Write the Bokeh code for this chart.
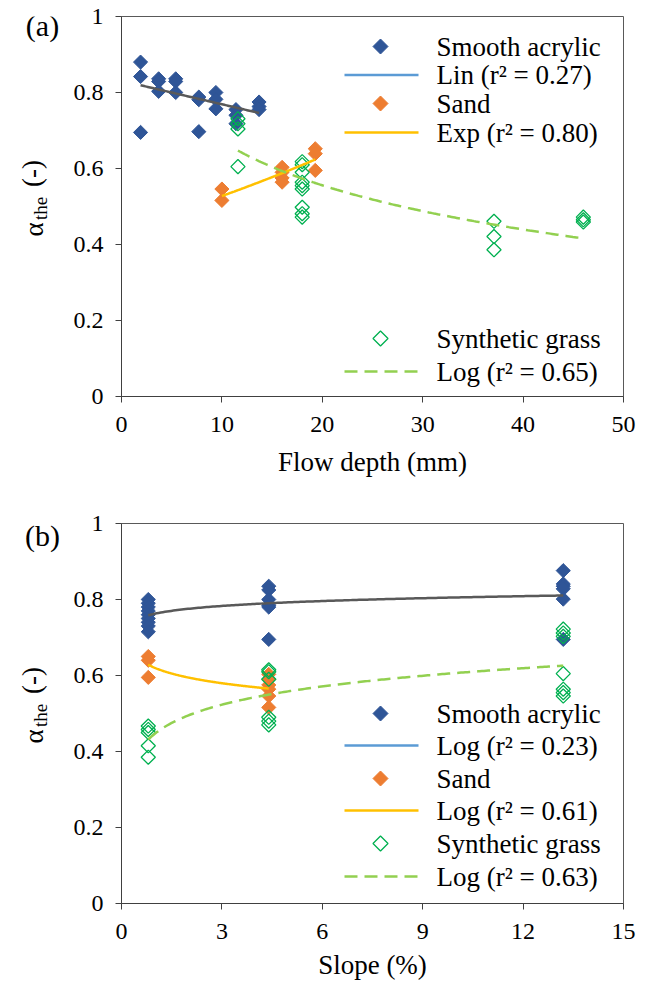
import numpy as np
from bokeh.plotting import figure
from bokeh.layouts import column, row
from bokeh.models import Range1d, FixedTicker, NumeralTickFormatter, Label, PolyAnnotation, Arrow
from bokeh.embed import file_html
from bokeh.resources import INLINE

SERIF = "Liberation Serif"

# ---------------- data: panel (a) flow depth (mm) ----------------
acrylic_depth = [1.9, 1.9, 1.9, 3.7, 3.7, 3.7, 5.4, 5.4, 5.4, 7.7, 7.7, 7.7,
                 9.4, 9.4, 9.4, 11.4, 11.4, 11.4, 13.7, 13.7, 13.7]
acrylic_alpha_a = [0.880, 0.842, 0.695, 0.836, 0.829, 0.803, 0.836, 0.829, 0.800,
                   0.788, 0.781, 0.697, 0.800, 0.782, 0.757, 0.755, 0.740, 0.718,
                   0.775, 0.763, 0.755]
sand_depth = [10.0, 10.0, 16.0, 16.0, 16.0, 16.0, 19.3, 19.3, 19.3]
sand_alpha_a = [0.546, 0.516, 0.603, 0.590, 0.575, 0.564, 0.652, 0.639, 0.595]
grass_depth = [11.6, 11.6, 11.6, 11.6, 18.0, 18.0, 18.0, 18.0, 18.0, 18.0, 18.0,
               18.0, 18.0, 37.1, 37.1, 37.1, 46.0, 46.0, 46.0]
grass_alpha_a = [0.731, 0.718, 0.704, 0.605, 0.618, 0.610, 0.590, 0.564, 0.555,
                 0.546, 0.498, 0.481, 0.472, 0.461, 0.421, 0.386, 0.472, 0.465, 0.459]

# ---------------- data: panel (b) slope (%) ----------------
acrylic_slope = [0.8, 0.8, 0.8, 0.8, 0.8, 0.8, 0.8, 0.8, 0.8,
                 4.4, 4.4, 4.4, 4.4, 4.4, 4.4, 13.2, 13.2, 13.2, 13.2, 13.2, 13.2]
acrylic_alpha_b = [0.800, 0.790, 0.780, 0.770, 0.760, 0.750, 0.740, 0.730, 0.715,
                   0.835, 0.825, 0.800, 0.785, 0.780, 0.695,
                   0.876, 0.841, 0.835, 0.828, 0.801, 0.695]
sand_slope = [0.8, 0.8, 0.8, 4.4, 4.4, 4.4, 4.4, 4.4, 4.4]
sand_alpha_b = [0.650, 0.640, 0.595, 0.603, 0.590, 0.575, 0.564, 0.546, 0.516]
grass_slope = [0.8, 0.8, 0.8, 0.8, 0.8, 4.4, 4.4, 4.4, 4.4, 4.4, 4.4,
               13.2, 13.2, 13.2, 13.2, 13.2, 13.2, 13.2]
grass_alpha_b = [0.467, 0.458, 0.450, 0.415, 0.385, 0.615, 0.610, 0.590, 0.490,
                 0.480, 0.470, 0.722, 0.712, 0.703, 0.605, 0.564, 0.555, 0.546]

y_ticks = [0, 0.2, 0.4, 0.6, 0.8, 1.0]
depth_ticks = [0, 10, 20, 30, 40, 50]
slope_ticks = [0, 3, 6, 9, 12, 15]

legend_a_top = ["Smooth acrylic", "Lin (r\u00b2 = 0.27)", "Sand", "Exp (r\u00b2 = 0.80)"]
legend_a_bot = ["Synthetic grass", "Log (r\u00b2 = 0.65)"]
legend_b = ["Smooth acrylic", "Log (r\u00b2 = 0.23)", "Sand", "Log (r\u00b2 = 0.61)",
            "Synthetic grass", "Log (r\u00b2 = 0.63)"]

# ---------------- styles ----------------
C_ACR = "#2F5597"
C_SAND = "#ED7D31"
C_GRASS = "#00B050"
C_ACR_FIT = "#595959"
C_ACR_LEG = "#5B9BD5"
C_SAND_FIT = "#FFC000"
C_GRASS_FIT = "#92D050"
DASH = "13 7"
SIDE_W = 62          # strip left of each panel holding the panel letter and y title
FRAME_LEFT = 121     # global x of the plot frame's left edge

# ---------------- trend fits (least squares, like spreadsheet trendlines) ----------------
def lin_fit(x, y):
    x = np.asarray(x, float); y = np.asarray(y, float)
    b, a = np.polyfit(x, y, 1)
    xs = np.linspace(x.min(), x.max(), 100)
    return xs, a + b * xs

def exp_fit(x, y):
    x = np.asarray(x, float); y = np.asarray(y, float)
    b, a = np.polyfit(x, np.log(y), 1)
    xs = np.linspace(x.min(), x.max(), 100)
    return xs, np.exp(a) * np.exp(b * xs)

def log_fit(x, y):
    x = np.asarray(x, float); y = np.asarray(y, float)
    b, a = np.polyfit(np.log(x), y, 1)
    xs = np.linspace(x.min(), x.max(), 200)
    return xs, a + b * np.log(xs)


def make_fig(height, top, bottom, x_end, x_ticks, x_label, tick_standoff, title_standoff):
    p = figure(width=651 - SIDE_W, height=height, x_range=Range1d(0, x_end),
               y_range=Range1d(0, 1), output_backend="svg", toolbar_location=None,
               min_border_left=FRAME_LEFT - SIDE_W, min_border_right=28, min_border_top=top,
               min_border_bottom=bottom)
    p.grid.visible = False
    p.outline_line_color = "#595959"
    p.outline_line_width = 1
    p.background_fill_color = "white"
    p.border_fill_color = "white"
    for ax in (p.xaxis[0], p.yaxis[0]):
        ax.axis_line_color = "#404040"
        ax.major_tick_line_color = "#404040"
        ax.major_tick_in = 0
        ax.major_tick_out = 6
        ax.minor_tick_line_color = None
        ax.major_label_text_font = SERIF
        ax.major_label_text_font_size = "24px"
        ax.major_label_text_color = "black"
        ax.major_label_text_line_height = 1.0
    p.xaxis.ticker = FixedTicker(ticks=x_ticks)
    p.yaxis.ticker = FixedTicker(ticks=y_ticks)
    p.yaxis.formatter = NumeralTickFormatter(format="0.[0]")
    p.xaxis.major_label_standoff = tick_standoff
    p.yaxis.major_label_standoff = 12
    p.xaxis.axis_label = x_label
    p.xaxis.axis_label_text_font = SERIF
    p.xaxis.axis_label_text_font_size = "27px"
    p.xaxis.axis_label_text_font_style = "normal"
    p.xaxis.axis_label_text_color = "black"
    p.xaxis.axis_label_text_line_height = 1.0
    p.xaxis.axis_label_standoff = title_standoff
    return p


def side_fig(height, top, bottom, frame_top_g, frame_bot_g, panel_text, panel_cy, ylab_cy):
    # strip whose frame lines up with the panel frame; data y == global page pixel y
    s = figure(width=SIDE_W, height=height, x_range=Range1d(0, SIDE_W),
               y_range=Range1d(frame_bot_g, frame_top_g), output_backend="svg",
               toolbar_location=None, min_border_left=0, min_border_right=0,
               min_border_top=top, min_border_bottom=bottom,
               x_axis_type=None, y_axis_type=None)
    s.outline_line_color = None
    s.background_fill_color = "white"
    s.border_fill_color = "white"
    common = dict(text_font=SERIF, text_color="black", text_align="center",
                  text_baseline="middle")
    s.add_layout(Label(x=42, y=panel_cy, text=panel_text, text_font_size="30px", **common))
    s.add_layout(Label(x=31, y=ylab_cy - 30, text="(-)", angle=np.pi / 2,
                       text_font_size="27px", **common))
    s.add_layout(Label(x=40, y=ylab_cy + 5, text="the", angle=np.pi / 2,
                       text_font_size="19px", **common))
    s.add_layout(Label(x=33, y=ylab_cy + 26, text="\u03b1", angle=np.pi / 2,
                       text_font_size="27px", **common))
    return s


def add_points(p, x, y, color, hollow=False):
    if hollow:
        p.scatter(x, y, marker="square", angle=np.pi / 4, size=10, fill_color=None,
                  line_color=color, line_width=1.3)
    else:
        p.scatter(x, y, marker="square", angle=np.pi / 4, size=10, fill_color=color,
                  line_color=color, line_width=1)


def legend_fns(frame_bottom):
    def sx(cx):
        return cx - FRAME_LEFT
    def sy(cy):
        return frame_bottom - cy
    return sx, sy


def legend_text(p, sx, sy, cy, text):
    p.add_layout(Label(x=sx(436), y=sy(cy), x_units="screen", y_units="screen", text=text,
                       text_font=SERIF, text_font_size="27px", text_align="left",
                       text_baseline="middle", text_color="black"))


def legend_diamond(p, sx, sy, cy, color, hollow=False):
    cx, r = 380, 7.5
    xs = [sx(cx), sx(cx + r), sx(cx), sx(cx - r)]
    ys = [sy(cy - r), sy(cy), sy(cy + r), sy(cy)]
    p.add_layout(PolyAnnotation(xs=xs, ys=ys, xs_units="screen", ys_units="screen",
                                fill_color=color, fill_alpha=0 if hollow else 1,
                                line_color=color, line_alpha=1,
                                line_width=1.3 if hollow else 1))


def legend_line(p, sx, sy, cy, color, dash="solid"):
    p.add_layout(Arrow(end=None, start=None, x_start=sx(344), y_start=sy(cy), x_end=sx(418),
                       y_end=sy(cy), start_units="screen", end_units="screen",
                       line_color=color, line_width=2.5, line_dash=dash))


# ================= panel (a) =================
H_A = 486
TOP_A, BOT_A = 16, H_A - 396
pa = make_fig(H_A, TOP_A, BOT_A, 50, depth_ticks, "Flow depth (mm)", 14, 12)
add_points(pa, acrylic_depth, acrylic_alpha_a, C_ACR)
add_points(pa, sand_depth, sand_alpha_a, C_SAND)
add_points(pa, grass_depth, grass_alpha_a, C_GRASS, hollow=True)
xs, ys = lin_fit(acrylic_depth, acrylic_alpha_a)
pa.line(xs, ys, line_color=C_ACR_FIT, line_width=2.5)
xs, ys = exp_fit(sand_depth, sand_alpha_a)
pa.line(xs, ys, line_color=C_SAND_FIT, line_width=2.5)
xs, ys = log_fit(grass_depth, grass_alpha_a)
pa.line(xs, ys, line_color=C_GRASS_FIT, line_width=2.5, line_dash=DASH)

sx, sy = legend_fns(396)
rows_a = [46, 74.5, 103, 132]
legend_diamond(pa, sx, sy, rows_a[0], C_ACR)
legend_line(pa, sx, sy, rows_a[1], C_ACR_LEG)
legend_diamond(pa, sx, sy, rows_a[2], C_SAND)
legend_line(pa, sx, sy, rows_a[3], C_SAND_FIT)
for cy, t in zip(rows_a, legend_a_top):
    legend_text(pa, sx, sy, cy, t)
rows_a2 = [338, 371]
legend_diamond(pa, sx, sy, rows_a2[0], C_GRASS, hollow=True)
legend_line(pa, sx, sy, rows_a2[1], C_GRASS_FIT, DASH)
for cy, t in zip(rows_a2, legend_a_bot):
    legend_text(pa, sx, sy, cy, t)

sa = side_fig(H_A, TOP_A, BOT_A, 16, 396, "(a)", 25, 203)

# ================= panel (b) =================
H_B = 987 - H_A
TOP_B, BOT_B = 523 - H_A, 987 - 903
pb = make_fig(H_B, TOP_B, BOT_B, 15, slope_ticks, "Slope (%)", 14, 8)
add_points(pb, acrylic_slope, acrylic_alpha_b, C_ACR)
add_points(pb, sand_slope, sand_alpha_b, C_SAND)
add_points(pb, grass_slope, grass_alpha_b, C_GRASS, hollow=True)
xs, ys = log_fit(acrylic_slope, acrylic_alpha_b)
pb.line(xs, ys, line_color=C_ACR_FIT, line_width=2.5)
xs, ys = log_fit(sand_slope, sand_alpha_b)
pb.line(xs, ys, line_color=C_SAND_FIT, line_width=2.5)
xs, ys = log_fit(grass_slope, grass_alpha_b)
pb.line(xs, ys, line_color=C_GRASS_FIT, line_width=2.5, line_dash=DASH)

sxb, syb = legend_fns(903)
rows_b = [713, 745, 778, 810, 843, 876]
legend_diamond(pb, sxb, syb, rows_b[0], C_ACR)
legend_line(pb, sxb, syb, rows_b[1], C_ACR_LEG)
legend_diamond(pb, sxb, syb, rows_b[2], C_SAND)
legend_line(pb, sxb, syb, rows_b[3], C_SAND_FIT)
legend_diamond(pb, sxb, syb, rows_b[4], C_GRASS, hollow=True)
legend_line(pb, sxb, syb, rows_b[5], C_GRASS_FIT, DASH)
for cy, t in zip(rows_b, legend_b):
    legend_text(pb, sxb, syb, cy, t)

sb = side_fig(H_B, TOP_B, BOT_B, 523, 903, "(b)", 535, 710)

layout = column(row(sa, pa, spacing=0), row(sb, pb, spacing=0), spacing=0)
open("out.html", "w").write(file_html(layout, INLINE))
